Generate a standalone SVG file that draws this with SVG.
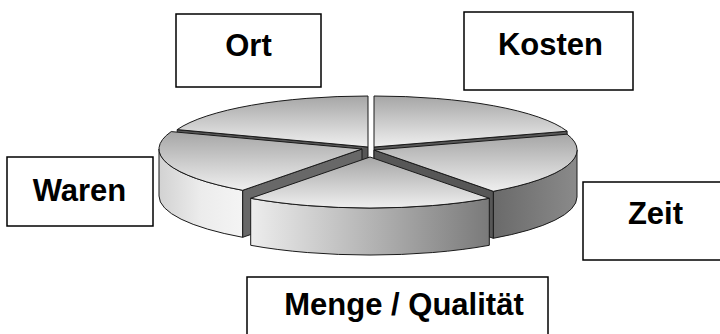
<svg xmlns="http://www.w3.org/2000/svg" width="720" height="334" viewBox="0 0 720 334">
  <style>
    .box { fill: #ffffff; stroke: #000000; stroke-width: 1.5; }
    .label { font-family: "Liberation Sans", Arial, sans-serif; font-weight: bold; font-size: 31px; fill: #000000; text-anchor: middle; }
    .edge { stroke: #1a1a1a; stroke-width: 1; stroke-linejoin: round; }
    .top { fill: url(#topShade); }
    .cut { fill: #575757; }
  </style>
  <defs>
    <linearGradient id="topShade" x1="0" y1="0" x2="0" y2="1">
      <stop offset="0" stop-color="#a6a6a6"/>
      <stop offset="1" stop-color="#efefef"/>
    </linearGradient>
    <linearGradient id="sideLight" x1="0" y1="0" x2="1" y2="0">
      <stop offset="0" stop-color="#d2d2d2"/>
      <stop offset="0.5" stop-color="#ececec"/>
      <stop offset="1" stop-color="#f4f4f4"/>
    </linearGradient>
    <linearGradient id="sideFront" x1="0" y1="0" x2="1" y2="0">
      <stop offset="0" stop-color="#ededed"/>
      <stop offset="0.5" stop-color="#b4b4b4"/>
      <stop offset="1" stop-color="#7a7a7a"/>
    </linearGradient>
    <linearGradient id="sideDark" x1="0" y1="0" x2="1" y2="0">
      <stop offset="0" stop-color="#6a6a6a"/>
      <stop offset="1" stop-color="#8a8a8a"/>
    </linearGradient>
  </defs>

  <!-- exploded 3D pie, five equal slices -->
  <g id="pie" class="edge">
    <!-- back slices -->
    <g id="slice-ort">
      <path class="cut" d="M368,147 L177.2,129.6 L177.2,176.6 L368,194 Z"/>
      <path class="top" d="M368,147 L368,96 A203,51 0 0 0 177.2,129.6 Z"/>
    </g>
    <g id="slice-kosten">
      <path class="cut" d="M374,147 L567.1,131.2 L567.1,178.2 L374,194 Z"/>
      <path class="top" d="M374,147 L567.1,131.2 A203,51 0 0 0 374,96 Z"/>
    </g>
    <!-- side slices -->
    <g id="slice-waren">
      <path fill="url(#sideLight)" d="M159,149 A203,51 0 0 0 242.7,190.3 L242.7,237.3 A203,51 0 0 1 159,196 Z"/>
      <path fill="#686868" d="M362,149 L242.7,190.3 L242.7,237.3 L362,196 Z"/>
      <path class="top" d="M362,149 L171.2,131.6 A203,51 0 0 0 242.7,190.3 Z"/>
    </g>
    <g id="slice-zeit">
      <path fill="url(#sideDark)" d="M493.3,191.3 A203,51 0 0 0 577,150 L577,197 A203,51 0 0 1 493.3,238.3 Z"/>
      <path class="cut" d="M374,150 L493.3,191.3 L493.3,238.3 L374,197 Z"/>
      <path class="top" d="M374,150 L493.3,191.3 A203,51 0 0 0 567.1,134.2 Z"/>
    </g>
    <!-- front slice, pulled out -->
    <g id="slice-menge">
      <path fill="url(#sideFront)" d="M250.7,198.3 A203,51 0 0 0 489.3,198.3 L489.3,245.3 A203,51 0 0 1 250.7,245.3 Z"/>
      <path class="top" d="M370,157 L250.7,198.3 A203,51 0 0 0 489.3,198.3 Z"/>
    </g>
  </g>

  <!-- labels -->
  <g id="node-ort">
    <rect class="box" x="176" y="14" width="145" height="73"/>
    <text class="label" x="248.5" y="56">Ort</text>
  </g>
  <g id="node-kosten">
    <rect class="box" x="464" y="12" width="169" height="78"/>
    <text class="label" x="550.5" y="55">Kosten</text>
  </g>
  <g id="node-waren">
    <rect class="box" x="7" y="157" width="146" height="69"/>
    <text class="label" x="79.5" y="201">Waren</text>
  </g>
  <g id="node-zeit">
    <rect class="box" x="583" y="182" width="144" height="78"/>
    <text class="label" x="655.5" y="224">Zeit</text>
  </g>
  <g id="node-menge">
    <rect class="box" x="247" y="277" width="301" height="70"/>
    <text class="label" x="404" y="315">Menge / Qualität</text>
  </g>
</svg>
